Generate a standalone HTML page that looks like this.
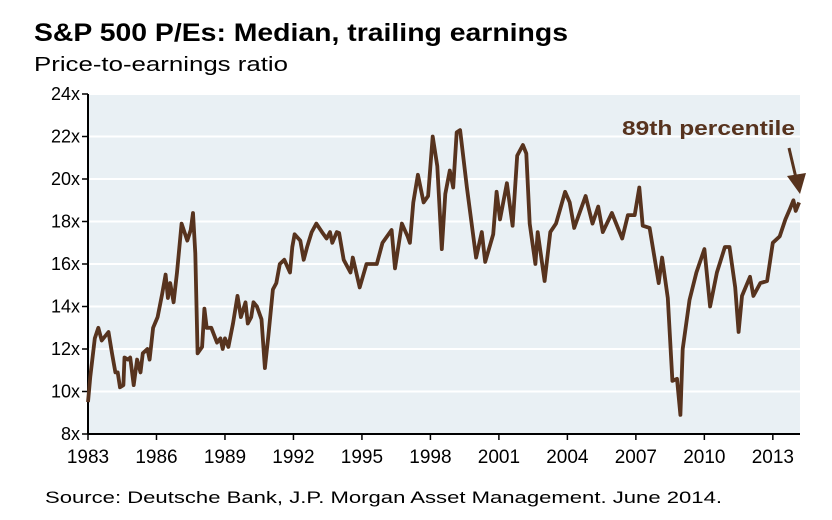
<!DOCTYPE html>
<html><head><meta charset="utf-8"><style>
body{margin:0;background:#fff;width:832px;height:515px;overflow:hidden;font-family:"Liberation Sans",Arial,sans-serif}
</style></head><body>
<svg width="832" height="515">
<text x="34" y="41" font-size="25" font-weight="bold" fill="#000" textLength="534" lengthAdjust="spacingAndGlyphs">S&amp;P 500 P/Es: Median, trailing earnings</text>
<text x="34" y="71" font-size="20" fill="#000" textLength="254" lengthAdjust="spacingAndGlyphs">Price-to-earnings ratio</text>
<rect x="88" y="94" width="712" height="340" fill="#e9f0f4"/>
<g id="grid"></g>
<g id="axes"></g>
<path id="line" fill="none" stroke="#57331e" stroke-width="3.8" stroke-linejoin="round"/>
<text x="622" y="135" font-size="20" font-weight="bold" fill="#57331e" textLength="173" lengthAdjust="spacingAndGlyphs">89th percentile</text>
<g>
<line x1="789" y1="148" x2="796" y2="178" stroke="#57331e" stroke-width="3"/>
<polygon points="787,176 806,173 800,194" fill="#57331e"/>
</g>
<text x="45" y="503" font-size="17" fill="#000" textLength="677" lengthAdjust="spacingAndGlyphs">Source: Deutsche Bank, J.P. Morgan Asset Management. June 2014.</text>
</svg>
<script>
const yTicks=[8,10,12,14,16,18,20,22,24];
const xTicks=[1983,1986,1989,1992,1995,1998,2001,2004,2007,2010,2013];
const years=[1983.0,1983.1,1983.3,1983.45,1983.6,1983.9,1984.05,1984.2,1984.3,1984.4,1984.55,1984.6,1984.75,1984.85,1985.0,1985.15,1985.3,1985.4,1985.6,1985.7,1985.85,1986.05,1986.25,1986.4,1986.5,1986.6,1986.75,1986.9,1987.1,1987.35,1987.5,1987.6,1987.7,1987.8,1988.0,1988.1,1988.2,1988.4,1988.65,1988.8,1988.9,1989.0,1989.15,1989.35,1989.55,1989.7,1989.9,1990.0,1990.15,1990.25,1990.4,1990.6,1990.75,1990.9,1991.1,1991.25,1991.4,1991.6,1991.85,1991.95,1992.05,1992.3,1992.45,1992.6,1992.8,1993.0,1993.25,1993.45,1993.6,1993.7,1993.9,
1994.0,1994.2,1994.5,1994.6,1994.9,1995.2,1995.65,1995.9,1996.3,1996.45,1996.75,1997.0,1997.1,1997.25,1997.45,1997.7,1997.9,1998.1,1998.3,1998.5,1998.65,1998.85,1999.0,1999.15,1999.3,1999.6,2000.0,2000.25,2000.4,2000.75,2000.9,2001.05,2001.35,2001.6,2001.8,2002.05,2002.2,2002.35,2002.6,2002.7,2003.0,2003.25,2003.5,2003.9,2004.1,2004.3,2004.8,
2005.1,2005.35,2005.55,2005.95,2006.4,2006.65,2006.95,2007.15,2007.3,2007.6,2008.0,2008.15,2008.4,2008.6,2008.8,2008.95,2009.05,2009.35,2009.65,2010.0,2010.25,2010.55,2010.9,2011.1,2011.35,2011.5,2011.65,2012.0,2012.15,2012.45,2012.75,2013.0,2013.3,2013.55,2013.75,2013.9,2014.0,2014.15];
const peValues=[9.5,10.7,12.5,13.0,12.4,12.8,11.8,10.9,10.9,10.2,10.3,11.6,11.5,11.6,10.3,11.5,10.9,11.8,12.0,11.5,13.0,13.5,14.6,15.5,14.4,15.1,14.2,15.6,17.9,17.1,17.6,18.4,16.5,11.8,12.1,13.9,13.0,13.0,12.3,12.5,12.0,12.5,12.1,13.2,14.5,13.5,14.2,13.2,13.5,14.2,14.0,13.4,11.1,12.6,14.8,15.1,16.0,16.2,15.6,16.8,17.4,17.1,16.2,16.8,17.5,17.9,17.5,17.2,17.5,17.0,17.5,
17.46,16.2,15.6,16.3,14.9,16.0,16.0,17.0,17.6,15.8,17.9,17.3,17.0,18.9,20.2,18.9,19.2,22.0,20.6,16.7,19.3,20.4,19.6,22.2,22.3,19.6,16.3,17.5,16.1,17.4,19.4,18.1,19.8,17.8,21.1,21.6,21.2,17.9,16.0,17.5,15.2,17.5,17.9,19.4,18.9,17.7,19.2,
17.9,18.7,17.5,18.4,17.2,18.3,18.3,19.6,17.8,17.7,15.1,16.3,14.4,10.5,10.6,8.9,12.0,14.3,15.6,16.7,14.0,15.6,16.8,16.8,14.9,12.8,14.5,15.4,14.5,15.1,15.2,17.0,17.3,18.1,18.6,19.0,18.5,18.9];
const X0=88,X1=800,Y0=434,Y1=94;
const xs=y=>X0+(y-1983)*(X1-X0)/(2014.19-1983);
const ys=v=>Y0-(v-8)*(Y0-Y1)/16;
const NS='http://www.w3.org/2000/svg';
const grid=document.getElementById('grid'),axes=document.getElementById('axes');
function mk(tag,attrs,parent){const e=document.createElementNS(NS,tag);for(const k in attrs)e.setAttribute(k,attrs[k]);parent.appendChild(e);return e;}
yTicks.forEach(t=>{
 const y=ys(t);
 if(t>8){const g=mk('line',{x1:X0,x2:X1,y1:y,y2:y,stroke:'#fff','stroke-width':2},grid);
 
 }
 const tk=mk('line',{x1:X0-6,x2:X0,y1:y,y2:y,stroke:'#000','stroke-width':1.5},axes);
 
 
 const lb=mk('text',{x:X0-8,y:y+6,'font-size':18,'text-anchor':'end',fill:'#000'},axes);
 lb.textContent=t+'x';
 
 
});
xTicks.forEach(t=>{
 const x=xs(t);
 const tk=mk('line',{x1:x,x2:x,y1:Y0,y2:Y0+6,stroke:'#000','stroke-width':1.5},axes);
 
 
 const lb=mk('text',{x:x,y:Y0+29,'font-size':19,'text-anchor':'middle',fill:'#000'},axes);
 lb.textContent=t;
 
 
});
const ya=mk('line',{x1:X0,x2:X0,y1:Y1,y2:Y0,stroke:'#000','stroke-width':2},axes);


const xa=mk('line',{x1:X0,x2:X1,y1:Y0,y2:Y0,stroke:'#000','stroke-width':2},axes);


document.getElementById('line').setAttribute('d',years.map((y,i)=>(i?'L':'M')+xs(y).toFixed(1)+','+ys(peValues[i]).toFixed(1)).join(''));
</script>
</body></html>
